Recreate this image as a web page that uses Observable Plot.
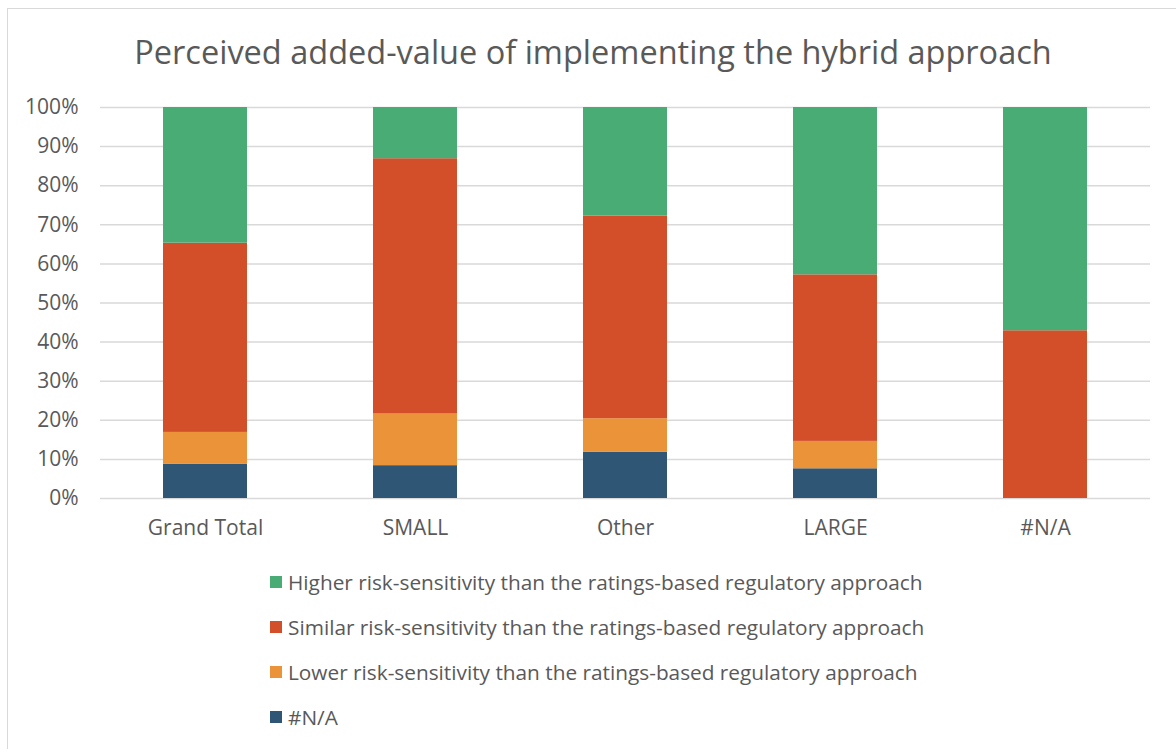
<!DOCTYPE html>
<html>
<head>
<meta charset="utf-8">
<script src="https://cdn.jsdelivr.net/npm/d3@7"></script>
<script src="https://cdn.jsdelivr.net/npm/@observablehq/plot@0.6"></script>
<style>
  html, body { margin: 0; padding: 0; background: #fff; overflow: hidden; }
  body { width: 1176px; height: 749px; position: relative; font-family: "Open Sans", sans-serif; color: #595959; }
  #frame { position: absolute; left: 7px; top: 8px; width: 1200px; height: 800px; border: 1px solid #d9d9d9; box-sizing: border-box; }
  #title { position: absolute; left: 0; width: 1186px; top: 30px; text-align: center; font-size: 32.5px; font-weight: 400; line-height: 44px; color: #595959; }
  #chart { position: absolute; left: 0; top: 90px; }
  #legend { position: absolute; left: 270px; top: 570px; font-size: 20.8px; }
  .item { display: flex; align-items: center; height: 24px; margin-bottom: 21px; white-space: nowrap; }
  .sw { width: 12px; height: 12px; margin-right: 6px; flex: none; }
</style>
</head>
<body>
<div id="frame"></div>
<div id="title">Perceived added-value of implementing the hybrid approach</div>
<div id="chart"></div>
<div id="legend"></div>
<script>
const categories = ["Grand Total", "SMALL", "Other", "LARGE", "#N/A"];
const seriesNames = [
  "#N/A",
  "Lower risk-sensitivity than the ratings-based regulatory approach",
  "Similar risk-sensitivity than the ratings-based regulatory approach",
  "Higher risk-sensitivity than the ratings-based regulatory approach"
];
const seriesColors = ["#2f5674", "#ea9339", "#d24f29", "#4aac75"];
const naValues = [8.8, 8.4, 11.8, 7.6, 0];
const lowerValues = [8.1, 13.2, 8.6, 7.0, 0];
const similarValues = [48.4, 65.3, 51.8, 42.6, 42.9];
const higherValues = [34.7, 13.1, 27.8, 42.8, 57.1];
const yTicks = [0, 0.1, 0.2, 0.3, 0.4, 0.5, 0.6, 0.7, 0.8, 0.9, 1];

const seriesValues = [naValues, lowerValues, similarValues, higherValues];
const data = [];
seriesNames.forEach((s, si) => {
  categories.forEach((c, ci) => {
    data.push({category: c, series: s, value: seriesValues[si][ci] / 100});
  });
});

const plot = Plot.plot({
  width: 1176,
  height: 470,
  marginLeft: 100,
  marginRight: 26,
  marginTop: 17,
  marginBottom: 62,
  style: {fontFamily: "Open Sans, sans-serif", fontSize: "21px", color: "#595959", background: "transparent"},
  x: {domain: categories, paddingInner: 0.6, paddingOuter: 0.3, label: null, tickSize: 0, tickPadding: 22},
  y: {domain: [0, 1], ticks: yTicks, tickFormat: d3.format(".0%"), label: null, tickSize: 0, tickPadding: 22},
  color: {domain: seriesNames, range: seriesColors},
  marks: [
    Plot.gridY(yTicks, {stroke: "#d9d9d9", strokeOpacity: 1, strokeWidth: 1.5}),
    Plot.barY(data, {x: "category", y: "value", fill: "series", order: seriesNames}),
    Plot.axisX({tickSize: 0, tickPadding: 22, fontSize: 21}),
    Plot.axisY({ticks: yTicks, tickFormat: d3.format(".0%"), tickSize: 0, tickPadding: 22, fontSize: 21})
  ]
});
document.getElementById("chart").appendChild(plot);

const legend = document.getElementById("legend");
const order = [3, 2, 1, 0];
order.forEach(i => {
  const item = document.createElement("div");
  item.className = "item";
  const sw = document.createElement("span");
  sw.className = "sw";
  sw.style.background = seriesColors[i];
  const label = document.createElement("span");
  label.textContent = seriesNames[i];
  item.appendChild(sw);
  item.appendChild(label);
  legend.appendChild(item);
});
</script>
</body>
</html>
